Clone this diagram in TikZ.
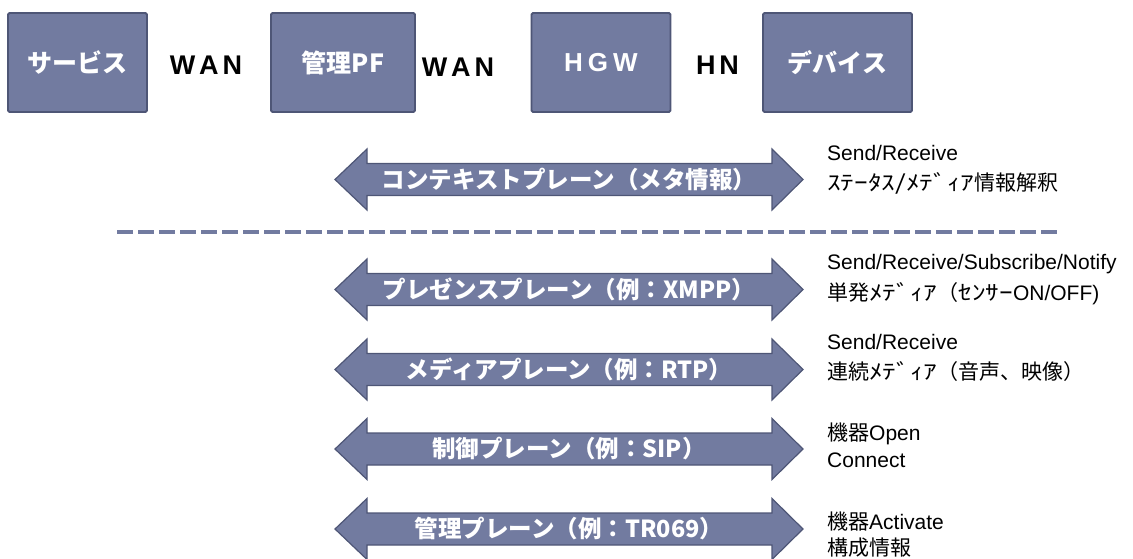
\documentclass[tikz,border=0pt]{standalone}
\usepackage{fontspec}
\setmainfont{Liberation Sans}
\newfontfamily\jp{Noto Sans CJK JP}
\newfontfamily\jphw[FakeStretch=1.3]{Noto Sans CJK JP}
\definecolor{planefill}{RGB}{114,123,160}
\definecolor{planeedge}{RGB}{78,86,118}
\tikzset{
  topbox/.style={draw=planeedge, line width=1.8pt, fill=planefill, rounded corners=1.5pt,
    text=white, font=\jp\bfseries\fontsize{25}{30}\selectfont, minimum height=99pt, inner sep=0pt},
  netlabel/.style={font=\bfseries\fontsize{27}{32}\selectfont, inner sep=0pt},
  planeshape/.style={draw=planeedge, line width=1.2pt, fill=planefill},
  planelabel/.style={text=white, font=\jp\bfseries\fontsize{23.5}{28}\selectfont, inner sep=0pt},
  notelabel/.style={anchor=base west, inner sep=0pt, font=\fontsize{21}{25}\selectfont},
  dashline/.style={draw=planefill, line width=4pt, dash pattern=on 16pt off 5pt}
}
\newcommand\planearrow[3]{%
  \draw[planeshape] (335,#2) -- ++(32,-30.5) -- ++(0,14.5) -- ++(405,0) -- ++(0,-14.5)
    -- ++(31,30.5) -- ++(-31,30.5) -- ++(0,-14.5) -- ++(-405,0) -- ++(0,14.5) -- cycle;
  \node[planelabel] (#1) at (569,#2) {#3};
}
\begin{document}
\begin{tikzpicture}[x=1pt,y=-1pt]
\useasboundingbox (0,0) rectangle (1133,558);
% top row
\node[topbox, minimum width=139pt] (svc) at (77.5,62.5) {サービス};
\node[topbox, minimum width=144pt] (pf) at (343,62.5) {管理PF};
\node[topbox, minimum width=139pt, font=\bfseries\fontsize{26}{30}\selectfont] (hgw) at (601,62.5) {H\kern5pt G\kern5pt W};
\node[topbox, minimum width=149pt] (dev) at (837.5,62.5) {デバイス};
\node[netlabel] (wan1) at (206,65) {W\kern4pt A\kern4pt N};
\node[netlabel] (wan2) at (458,67) {W\kern4pt A\kern4pt N};
\node[netlabel] (hn) at (717.5,65) {H\kern4pt N};
% planes
\planearrow{ctx}{179.5}{コンテキストプレーン（メタ情報）}
\coordinate (dashL) at (117,232);
\coordinate (dashR) at (1058,232);
\draw[dashline] (dashL) -- (dashR);
\planearrow{pres}{289.5}{プレゼンスプレーン（例：XMPP）}
\planearrow{media}{369.5}{メディアプレーン（例：RTP）}
\planearrow{ctrl}{449}{制御プレーン（例：SIP）}
\planearrow{mgmt}{529}{管理プレーン（例：TR069）}
% notes
\node[notelabel] (n1a) at (827,160.5) {Send/Receive};
\node[notelabel] (n1b) at (827,190.5) {{\jphw ｽﾃｰﾀｽ/ﾒﾃﾞｨｱ}{\jp 情報解釈}};
\node[notelabel] (n2a) at (827,269.5) {Send/Receive/Subscribe/Notify};
\node[notelabel] (n2b) at (827,300.5) {{\jp 単発}{\jphw ﾒﾃﾞｨｱ}{\jp （}{\jphw ｾﾝｻｰ}ON/OFF)};
\node[notelabel] (n3a) at (827,349.5) {Send/Receive};
\node[notelabel] (n3b) at (827,379.5) {{\jp 連続}{\jphw ﾒﾃﾞｨｱ}{\jp （音声、映像）}};
\node[notelabel] (n4a) at (827,440.5) {{\jp 機器}Open};
\node[notelabel] (n4b) at (827,467.5) {Connect};
\node[notelabel] (n5a) at (827,529.5) {{\jp 機器}Activate};
\node[notelabel] (n5b) at (827,555.5) {{\jp 構成情報}};
\end{tikzpicture}
\end{document}
